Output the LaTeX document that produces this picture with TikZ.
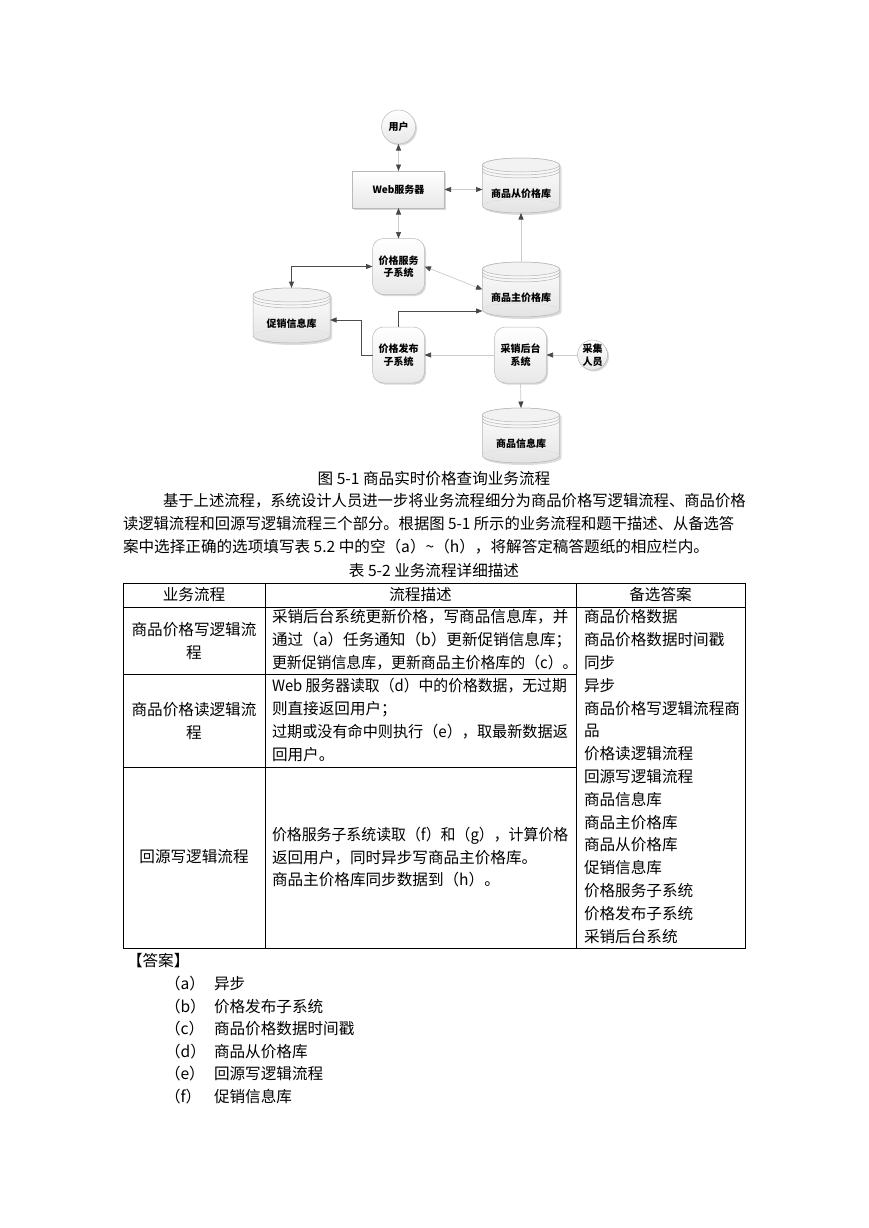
\documentclass[tikz,border=0pt]{standalone}
\usepackage{fontspec}
\usepackage{graphicx}
\setmainfont{Noto Sans CJK SC}
\usetikzlibrary{arrows.meta,shadows}
\newcommand\hsq[2]{\scalebox{#1}[1]{#2}}
\newcommand\cylsil{(-38.5,7) -- (-38.5,48) .. controls (-38.5,51.87) and (-21.26,55) .. (0,55) .. controls (21.26,55) and (38.5,51.87) .. (38.5,48) -- (38.5,7) .. controls (38.5,3.13) and (21.26,0) .. (0,0) .. controls (-21.26,0) and (-38.5,3.13) .. (-38.5,7) -- cycle}
\newcommand\dbcyl[4]{%
 \begin{scope}[shift={(#2,#3)}]
  \fill[gray!45, opacity=0.6, shift={(2,2)}] \cylsil;
  \shade[top color=white, bottom color=gray!22] \cylsil;
  \draw[gray!60, line width=0.5pt] \cylsil;
  \draw[gray!25, line width=0.5pt] (-38.5,48) .. controls (-38.5,44.13) and (-21.26,41) .. (0,41) .. controls (21.26,41) and (38.5,44.13) .. (38.5,48);
  \draw[gray!60, fill=gray!10, line width=0.5pt] (0,7) ellipse [x radius=38.5, y radius=7];
  \draw[gray!60, line width=0.5pt] (-38.5,10) .. controls (-38.5,13.87) and (-21.26,17) .. (0,17) .. controls (21.26,17) and (38.5,13.87) .. (38.5,10);
  \draw[gray!60, line width=0.5pt] (-38.5,13) .. controls (-38.5,16.87) and (-21.26,20) .. (0,20) .. controls (21.26,20) and (38.5,16.87) .. (38.5,13);
 \end{scope}
 \node[dbhold] (#1) at ({#2},{#3+27.5}) {};
 \node[dfont] (#1t) at ({#2},{#3+36}) {#4};
}
\begin{document}
\begin{tikzpicture}[x=1pt,y=-1pt,
  every node/.style={inner sep=0pt, outer sep=0pt},
  body/.style={font=\fontsize{15.6}{18}\selectfont, anchor=west, text height=12.8pt, text depth=1pt},
  ctext/.style={font=\fontsize{15.6}{18}\selectfont, text height=12.8pt, text depth=1pt},
  dfont/.style={font=\bfseries\fontsize{10}{12.5}\selectfont, align=center},
  boxed/.style={dfont, draw=gray!55, line width=0.5pt, top color=white, bottom color=gray!18,
     drop shadow={shadow xshift=1.5pt, shadow yshift=-1.5pt, fill=gray!50, opacity=0.6}},
  proc/.style={boxed, minimum width=92pt, minimum height=37pt},
  subsys/.style={boxed, rounded corners=11pt, minimum width=52pt, minimum height=56pt},
  actor/.style={boxed, circle},
  dbhold/.style={minimum width=77pt, minimum height=55pt},
  lite/.style={draw=gray!40, line width=0.7pt},
  dark/.style={draw=black!70, line width=1pt},
  >={Triangle[length=6.5pt,width=5pt,color=black!72]},
  tline/.style={line width=0.8pt, black}
]
\fill[white] (0,0) rectangle (869,1228);
\useasboundingbox (0,0) rectangle (869,1228);

% ---------------- diagram ----------------
\node[actor, minimum size=34pt] (user) at (398.5,127) {用户};
\node[proc] (web) at (398.5,189.5) {Web服务器};
\dbcyl{cong}{521}{158}{商品从价格库}
\node[subsys] (jgfw) at (398.5,266.5) {价格服务\\子系统};
\dbcyl{zhu}{521}{262}{商品主价格库}
\dbcyl{cuxiao}{291.5}{288}{促销信息库}
\node[subsys] (jgfb) at (398.5,355) {价格发布\\子系统};
\node[subsys] (cxht) at (520.5,355) {采销后台\\系统};
\node[actor, minimum size=30pt] (cj) at (592.5,355) {采集\\人员};
\dbcyl{xxk}{521}{408}{商品信息库}

\draw[lite,<->] (user) -- (web);
\draw[lite,<->] (web.east) -- (web.east -| cong.west);
\draw[lite,<->] (web) -- (jgfw);
\draw[lite,->] (zhu.north) -- (cong.south);
\draw[lite,<->] (jgfw.east) -- (zhu.west);
\draw[dark,<->] (jgfw.west) -| (cuxiao.north);
\draw[dark,->] (jgfb.west) -- ++(-11,0) |- ([yshift=-4.5pt]cuxiao.east);
\draw[dark,->] (jgfb.north) |- ([yshift=-21.5pt]zhu.west);
\draw[lite,->] (cxht.west) -- (jgfb.east);
\draw[lite,->] (cj.west) -- (cxht.east);
\draw[lite,->] (cxht.south) -- (xxk.north);

% ---------------- text ----------------
\node[ctext] (cap1) at (434,479) {图 5-1 商品实时价格查询业务流程};
\node[body] (p1) at (163,501) {\hsq{0.983}{基于上述流程，系统设计人员进一步将业务流程细分为商品价格写逻辑流程、商品价格}};
\node[body] (p2) at (123,524) {\hsq{0.982}{读逻辑流程和回源写逻辑流程三个部分。根据图 5-1 所示的业务流程和题干描述、从备选答}};
\node[body] (p3) at (123,547) {案中选择正确的选项填写表 5.2 中的空（a）\textasciitilde（h），将解答定稿答题纸的相应栏内。};
\node[ctext] (cap2) at (434,571) {表 5-2 业务流程详细描述};

% ---------------- table ----------------
\draw[tline] (123,583) rectangle (745,948);
\draw[tline] (265,583) -- (265,948);
\draw[tline] (576,583) -- (576,948);
\draw[tline] (123,607) -- (745,607);
\draw[tline] (123,674) -- (576,674);
\draw[tline] (123,767) -- (576,767);

\node[ctext] (h1) at (194,595) {业务流程};
\node[ctext] (h2) at (420.5,595) {流程描述};
\node[ctext] (h3) at (660.5,595) {备选答案};

\node[ctext] (r1a) at (194,630) {商品价格写逻辑流};
\node[ctext] (r1b) at (194,653) {程};
\node[body] (r1c) at (272,617) {采销后台系统更新价格，写商品信息库，并};
\node[body] (r1d) at (272,640) {通过（a）任务通知（b）更新促销信息库；};
\node[body] (r1e) at (272,663) {\hsq{0.955}{更新促销信息库，更新商品主价格库的（c）。}};

\node[ctext] (r2a) at (194,710) {商品价格读逻辑流};
\node[ctext] (r2b) at (194,733) {程};
\node[body] (r2c) at (272,686) {\hsq{0.95}{Web 服务器读取（d）中的价格数据，无过期}};
\node[body] (r2d) at (272,709) {则直接返回用户；};
\node[body] (r2e) at (272,732) {\hsq{0.97}{过期或没有命中则执行（e），取最新数据返}};
\node[body] (r2f) at (272,755) {回用户。};

\node[ctext] (r3a) at (194,857) {回源写逻辑流程};
\node[body] (r3c) at (272,835) {\hsq{0.955}{价格服务子系统读取（f）和（g），计算价格}};
\node[body] (r3d) at (272,858) {返回用户，同时异步写商品主价格库。};
\node[body] (r3e) at (272,880) {商品主价格库同步数据到（h）。};

\foreach \t [count=\i] in {商品价格数据, 商品价格数据时间戳, 同步, 异步, 商品价格写逻辑流程商, 品, 价格读逻辑流程, 回源写逻辑流程, 商品信息库, 商品主价格库, 商品从价格库, 促销信息库, 价格服务子系统, 价格发布子系统, 采销后台系统}
  \node[body] (opt\i) at (584,{617+(\i-1)*22.8}) {\t};

% ---------------- answers ----------------
\node[body] (ans) at (127,961) {【答案】};
\foreach \l/\t [count=\i] in {a/异步, b/价格发布子系统, c/商品价格数据时间戳, d/商品从价格库, e/回源写逻辑流程, f/促销信息库}{
  \node[body] (al\i) at (165,{984+(\i-1)*22.5}) {（\l）};
  \node[body] (at\i) at (214,{984+(\i-1)*22.5}) {\t};
}
\end{tikzpicture}
\end{document}
